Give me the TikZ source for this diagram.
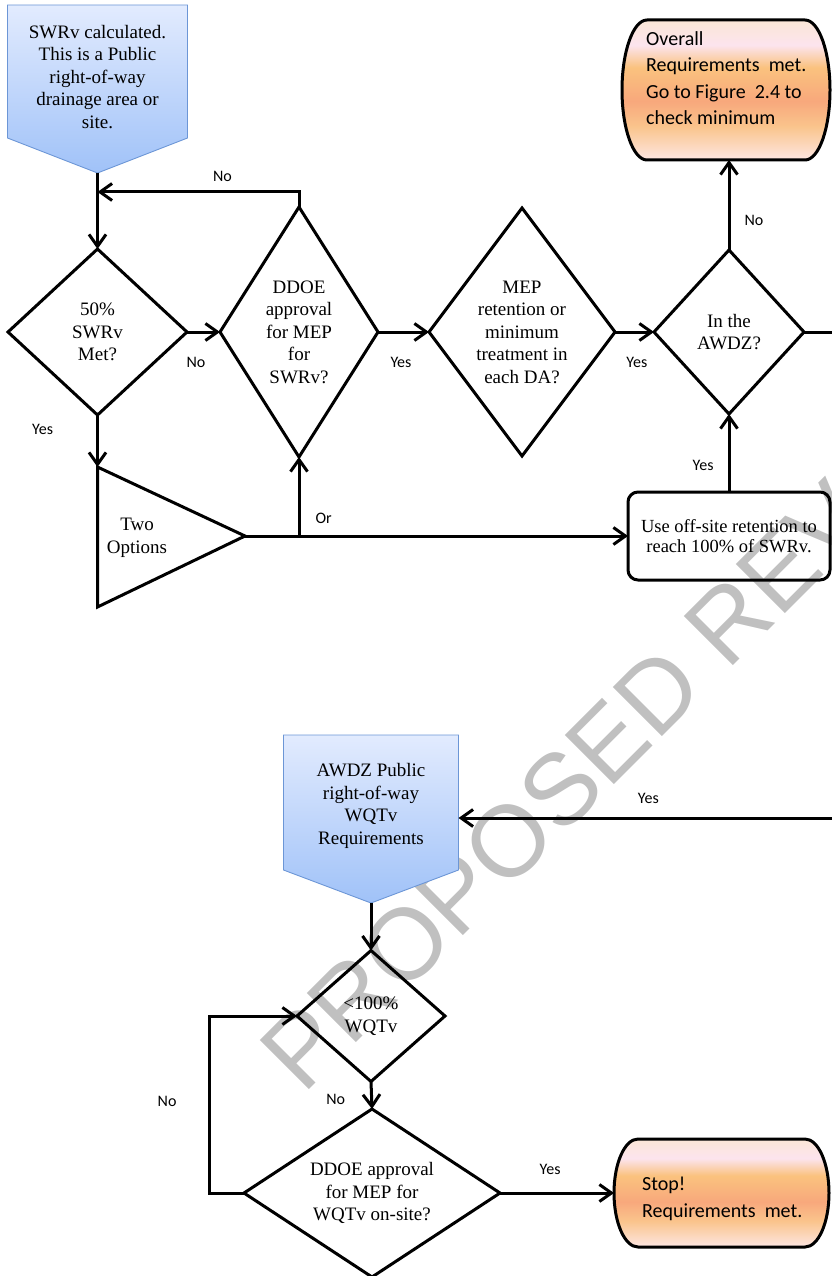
\documentclass[tikz,border=0pt]{standalone}
\usepackage{fontspec}
\setmainfont{Liberation Serif}
\newfontfamily\calfont{Carlito}
\newfontfamily\wmfont{Liberation Sans}
\usetikzlibrary{positioning,arrows.meta,shapes.geometric,calc}
\definecolor{calltop}{RGB}{226,235,254}
\definecolor{callbot}{RGB}{160,194,248}
\definecolor{calledge}{RGB}{108,150,214}
\definecolor{wmgray}{RGB}{192,192,192}
\definecolor{termA}{RGB}{253,230,226}
\definecolor{termB}{RGB}{250,196,140}
\definecolor{termC}{RGB}{248,168,124}
\definecolor{termD}{RGB}{250,194,126}
\definecolor{termE}{RGB}{252,228,238}
\definecolor{termF}{RGB}{251,230,214}
\pgfdeclareverticalshading{termshade}{100bp}{color(0bp)=(termA); color(25bp)=(termA); color(37bp)=(termB); color(46bp)=(termC); color(58bp)=(termD); color(66bp)=(termE); color(75bp)=(termF); color(100bp)=(termF)}
\newcommand\txtsize{\fontsize{19}{22.5}\selectfont}
\tikzset{
  flow/.style     = {-{Straight Barb[length=12pt,width=17pt]}, line width=3pt},
  dec/.style      = {diamond, draw, line width=3pt, inner sep=0pt, outer sep=0pt, align=center, font=\txtsize},
  txt/.style      = {align=center, font=\txtsize, inner sep=0pt},
  lbl/.style      = {font=\calfont\fontsize{16}{18}\selectfont, inner sep=0pt},
  shapebox/.style = {rectangle, inner sep=0pt, outer sep=0pt},
  callout/.style  = {draw=calledge, line width=0.9pt, top color=calltop, bottom color=callbot},
  term/.style     = {draw, line width=3pt, shading=termshade},
  termtext/.style = {align=left, font=\calfont\fontsize{20}{26.5}\selectfont, inner sep=0pt, anchor=west},
  procbox/.style  = {draw, rectangle, rounded corners=10pt, line width=3pt, outer sep=0pt, align=center, font=\fontsize{18.5}{20.5}\selectfont},
  watermark/.style= {font=\wmfont\fontsize{101}{101}\selectfont, text=wmgray, rotate=45, anchor=west, inner sep=0pt},
}
\begin{document}
\begin{tikzpicture}[x=1pt, y=-1pt]
  \useasboundingbox (0,0) rectangle (831,1276);
  % watermark, behind everything
  \node[watermark] (wm) at (278.5,1071.5) {PROPOSED REV};

  % start callout
  \node[shapebox, minimum width=180pt, minimum height=133pt] (swrv) at (97.5,71.5) {};
  \path[callout] (swrv.north west) -- (swrv.north east) -- (swrv.south east)
    -- ([yshift=-35pt]swrv.south) coordinate (swrvtip) -- (swrv.south west) -- cycle;
  \node[txt] (swrvtxt) at ([yshift=-5.5pt]swrv.center) {SWRv calculated.\\This is a Public\\right-of-way\\drainage area or\\site.};

  % first row of decisions
  \node[dec, aspect=1.07, minimum width=179pt, minimum height=166pt] (d50) at (97.5,332) {50\%\\SWRv\\Met?};
  \node[dec, aspect=0.63, minimum width=158pt, minimum height=250pt, right=33pt of d50] (ddoe) {DDOE\\approval\\for MEP\\for\\SWRv?};
  \node[dec, aspect=0.75, minimum width=186pt, minimum height=248pt, right=51pt of ddoe] (mep) {MEP\\retention or\\minimum\\treatment in\\each DA?};
  \node[dec, aspect=0.91, minimum width=150pt, minimum height=164pt, right=39pt of mep] (awdz) {In the\\AWDZ?};

  % overall terminator
  \node[shapebox, minimum width=208pt, minimum height=140pt] (overall) at (726,90) {};
  \path[term] ([xshift=25pt]overall.north west) -- ([xshift=-25pt]overall.north east)
    arc[start angle=90, end angle=-90, x radius=25pt, y radius=70pt]
    -- ([xshift=25pt]overall.south west)
    arc[start angle=270, end angle=90, x radius=25pt, y radius=70pt] -- cycle;
  \node[termtext] (overalltxt) at ([shift={(24,-12)}]overall.west) {Overall\\Requirements~ met.\\Go to Figure~ 2.4 to\\check minimum};

  % two options and off-site box
  \coordinate (twotop) at (97.5,467);
  \coordinate (twoapex) at (245,536);
  \coordinate (twobot) at (97.5,607);
  \draw[line width=3pt] (twotop) -- (twoapex) -- (twobot) -- cycle;
  \node[txt] (two) at (137,538) {Two\\Options};
  \node[procbox, minimum width=202pt, minimum height=88pt, below=78pt of awdz] (offsite) {Use off-site retention to\\reach 100\% of SWRv.};

  % lower part
  \node[shapebox, minimum width=175pt, minimum height=135pt] (awdzpub) at (371,802.5) {};
  \path[callout] (awdzpub.north west) -- (awdzpub.north east) -- (awdzpub.south east)
    -- ([yshift=-33pt]awdzpub.south) coordinate (pubtip) -- (awdzpub.south west) -- cycle;
  \node[txt] (awdzpubtxt) at ([yshift=-3.5pt]awdzpub.center) {AWDZ Public\\right-of-way\\WQTv\\Requirements};
  \coordinate (pubin) at ([yshift=-15.5pt]awdzpub.east);

  \node[dec, aspect=1.13, minimum width=148pt, minimum height=131pt] (lt) at (371,1016) {<100\%\\WQTv};
  \node[dec, aspect=1.51, minimum width=256pt, minimum height=168pt] (dd2) at (372,1193) {DDOE approval\\for MEP for\\WQTv on-site?};

  \node[shapebox, minimum width=215pt, minimum height=108pt] (stop) at (721.5,1193) {};
  \path[term] ([xshift=24pt]stop.north west) -- ([xshift=-24pt]stop.north east)
    arc[start angle=90, end angle=-90, x radius=24pt, y radius=54pt]
    -- ([xshift=24pt]stop.south west)
    arc[start angle=270, end angle=90, x radius=24pt, y radius=54pt] -- cycle;
  \node[termtext] (stoptxt) at ([shift={(28,6)}]stop.west) {Stop!\\Requirements~ met.};

  % connectors
  \draw[flow] (swrvtip) -- (d50.north);
  \draw[flow] (ddoe.north) |- node[lbl, above=9pt, pos=0.69]{No} (swrvtip |- 0,192);
  \draw[flow] (d50.east) -- node[lbl, below=24pt, pos=0.27]{No} (ddoe.west);
  \draw[flow] (ddoe.east) -- node[lbl, below=24pt, pos=0.45]{Yes} (mep.west);
  \draw[flow] (mep.east) -- node[lbl, below=24pt, pos=0.56]{Yes} (awdz.west);
  \draw[flow] (awdz.north) -- node[lbl, right=14pt, pos=0.33]{No} (awdz.north |- overall.south);
  \draw[flow] (d50.south) -- node[lbl, left=43pt, pos=0.28]{Yes} (twotop);
  \draw[flow] (twoapex) -- (offsite.west);
  \draw[flow] (twoapex -| ddoe.south) -- node[lbl, right=15pt, pos=0.22]{Or} (ddoe.south);
  \draw[flow] (offsite.north) -- node[lbl, left=14pt, pos=0.34]{Yes} (awdz.south);
  \coordinate (rt) at (846,818);
  \draw[flow] (awdz.east) -| (rt) -- node[lbl, above=13pt, pos=0.51]{Yes} (pubin);
  \draw[flow] (pubtip) -- (lt.north);
  \draw[flow] (lt.south) -- node[lbl, left=25pt, pos=0.64]{No} (dd2.north);
  \draw[flow] (dd2.west) -- ++(-35pt,0) |- node[lbl, left=31pt, pos=0.26]{No} (lt.west);
  \draw[flow] (dd2.east) -- node[lbl, above=17pt, pos=0.44]{Yes} (stop.west);
\end{tikzpicture}
\end{document}
